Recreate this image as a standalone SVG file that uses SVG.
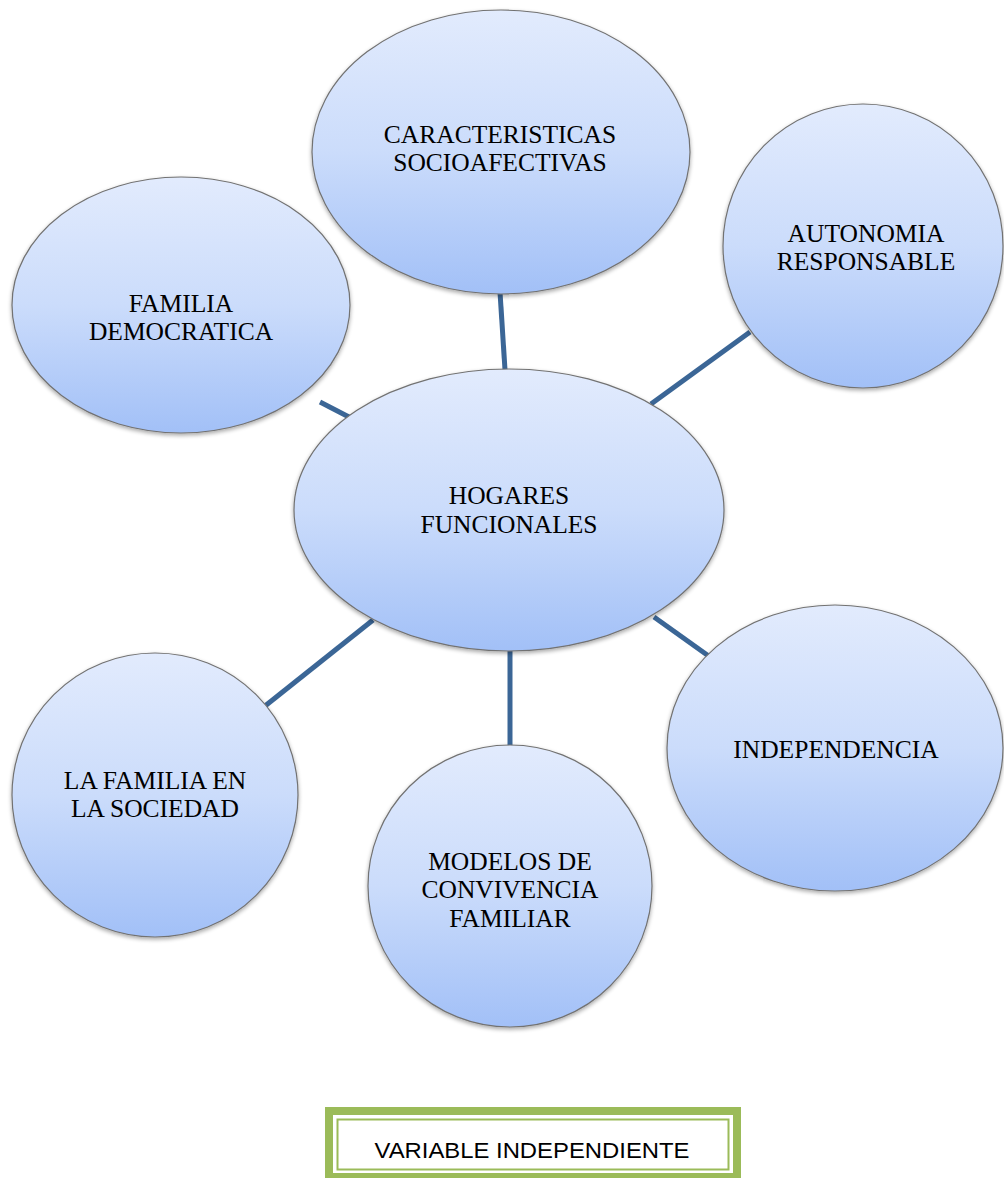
<svg xmlns="http://www.w3.org/2000/svg" width="1004" height="1178" viewBox="0 0 1004 1178">
<style>
.node ellipse{fill:url(#g);stroke:#727272;stroke-width:1.2;filter:url(#sh)}
.node text{font-family:"Liberation Serif","Times New Roman",serif;font-size:25.5px;fill:#000;text-anchor:middle}
#connectors line{stroke:#3b6696;stroke-width:5;stroke-linecap:butt}
.lbl{font-family:"Liberation Sans",Arial,sans-serif;font-size:22.5px;fill:#000;text-anchor:middle}
</style>
<defs>
<linearGradient id="g" x1="0" y1="0" x2="0" y2="1">
<stop offset="0" stop-color="#e2ebfd"/>
<stop offset="0.5" stop-color="#cbdcfb"/>
<stop offset="1" stop-color="#a2c0f7"/>
</linearGradient>
<filter id="sh" x="-10%" y="-10%" width="120%" height="125%">
<feGaussianBlur in="SourceAlpha" stdDeviation="2"/>
<feOffset dx="0" dy="2" result="b"/>
<feComponentTransfer><feFuncA type="linear" slope="0.35"/></feComponentTransfer>
<feMerge><feMergeNode/><feMergeNode in="SourceGraphic"/></feMerge>
</filter>
</defs>
<rect width="1004" height="1178" fill="#fff"/>
<g id="connectors">
<line x1="500" y1="292" x2="505" y2="370"/>
<line x1="651" y1="404" x2="750" y2="332"/>
<line x1="320" y1="402" x2="349" y2="417"/>
<line x1="265" y1="706" x2="373" y2="620"/>
<line x1="510" y1="651" x2="510" y2="747"/>
<line x1="654" y1="617" x2="710" y2="657"/>
</g>
<g id="n-top" class="node">
<ellipse cx="501" cy="152" rx="189" ry="142"/>
<text x="500" y="142.75">CARACTERISTICAS</text>
<text x="500" y="171.25">SOCIOAFECTIVAS</text>
</g>
<g id="n-topright" class="node">
<ellipse cx="863" cy="246" rx="140" ry="142"/>
<text x="866" y="241.75">AUTONOMIA</text>
<text x="866" y="270.25">RESPONSABLE</text>
</g>
<g id="n-left" class="node">
<ellipse cx="181" cy="305" rx="169" ry="128"/>
<text x="181" y="311.75">FAMILIA</text>
<text x="181" y="340.25">DEMOCRATICA</text>
</g>
<g id="n-center" class="node">
<ellipse cx="509" cy="510" rx="215" ry="141"/>
<text x="509" y="504.25">HOGARES</text>
<text x="509" y="532.75">FUNCIONALES</text>
</g>
<g id="n-bottomright" class="node">
<ellipse cx="835" cy="748" rx="168" ry="143"/>
<text x="836" y="758">INDEPENDENCIA</text>
</g>
<g id="n-bottomleft" class="node">
<ellipse cx="155" cy="795" rx="143" ry="142"/>
<text x="155" y="788.75">LA FAMILIA EN</text>
<text x="155" y="817.25">LA SOCIEDAD</text>
</g>
<g id="n-bottom" class="node">
<ellipse cx="510" cy="886" rx="142" ry="141"/>
<text x="510" y="869.5">MODELOS DE</text>
<text x="510" y="898">CONVIVENCIA</text>
<text x="510" y="926.5">FAMILIAR</text>
</g>
<g id="label">
<rect x="329" y="1111" width="408" height="66" fill="#fff" stroke="#9bbb59" stroke-width="8"/>
<rect x="337.5" y="1119.5" width="391" height="50" fill="none" stroke="#9bbb59" stroke-width="2"/>
<text class="lbl" x="532" y="1158" textLength="315" lengthAdjust="spacingAndGlyphs">VARIABLE INDEPENDIENTE</text>
</g>
</svg>
